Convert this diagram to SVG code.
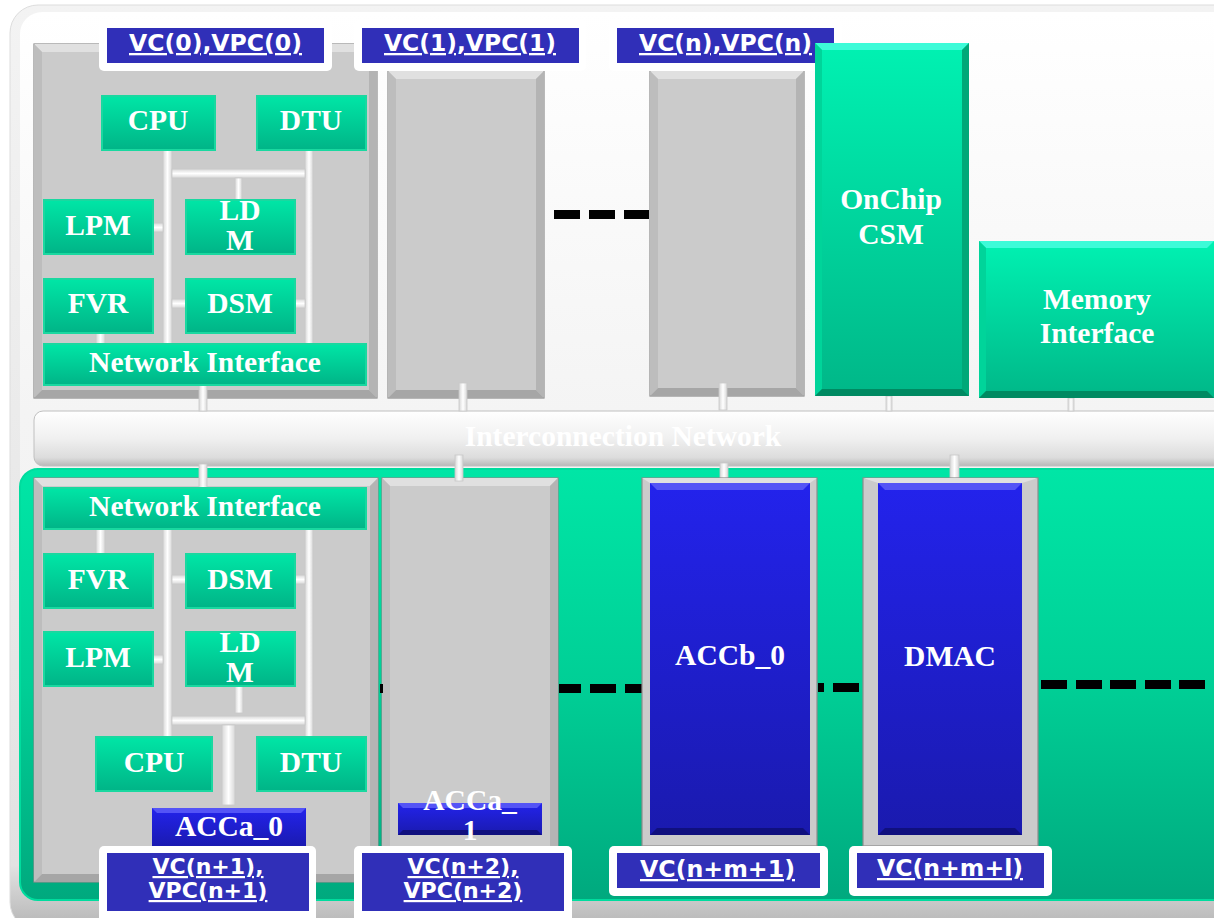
<svg xmlns="http://www.w3.org/2000/svg" width="1214" height="918" viewBox="0 0 1214 918">
<defs>
<linearGradient id="gFrame" x1="0" y1="0" x2="0" y2="1"><stop offset="0" stop-color="#f3f3f3"/><stop offset="0.93" stop-color="#e2e2e2"/><stop offset="1" stop-color="#b4b4b4"/></linearGradient>
<linearGradient id="gInner" x1="0" y1="0" x2="0" y2="1"><stop offset="0" stop-color="#ffffff"/><stop offset="0.45" stop-color="#f4f4f4"/><stop offset="1" stop-color="#f0f0f0"/></linearGradient>
<linearGradient id="gBar" x1="0" y1="0" x2="0" y2="1"><stop offset="0" stop-color="#ffffff"/><stop offset="0.5" stop-color="#f0f0f0"/><stop offset="0.85" stop-color="#dcdcdc"/><stop offset="1" stop-color="#b8b8b8"/></linearGradient>
<linearGradient id="gArea" x1="0" y1="0" x2="0" y2="1"><stop offset="0" stop-color="#00e6a6"/><stop offset="0.5" stop-color="#00cf96"/><stop offset="1" stop-color="#00a97e"/></linearGradient>
<linearGradient id="gComp" x1="0" y1="0" x2="0" y2="1"><stop offset="0" stop-color="#00e6a6"/><stop offset="1" stop-color="#00b487"/></linearGradient>
<linearGradient id="gBigGreen" x1="0" y1="0" x2="0" y2="1"><stop offset="0" stop-color="#00f2b2"/><stop offset="1" stop-color="#00b788"/></linearGradient>
<linearGradient id="gBlue" x1="0" y1="0" x2="0" y2="1"><stop offset="0" stop-color="#2323ec"/><stop offset="1" stop-color="#1a1aae"/></linearGradient>
<linearGradient id="gStubV" x1="0" y1="0" x2="1" y2="0"><stop offset="0" stop-color="#d8d8d8"/><stop offset="0.5" stop-color="#ffffff"/><stop offset="1" stop-color="#d8d8d8"/></linearGradient>
<linearGradient id="gStubH" x1="0" y1="0" x2="0" y2="1"><stop offset="0" stop-color="#d8d8d8"/><stop offset="0.5" stop-color="#ffffff"/><stop offset="1" stop-color="#d8d8d8"/></linearGradient>
<style>
.gray{fill:#cbcbcb;stroke:#8c8c8c;stroke-width:1.2}
.bt{fill:#e0e0e0}.bb{fill:#a6a6a6}.bl{fill:#bdbdbd}.br{fill:#b4b4b4}
.gt{fill:#3dfbd8}.gb{fill:#008a62}.gl{fill:#00d49a}.gr{fill:#00a878}
.ut{fill:#5454f6}.ub{fill:#10107e}
.comp{fill:url(#gComp);stroke:#1ad8a0;stroke-width:2}
.big{fill:url(#gBigGreen)}
.blue{fill:url(#gBlue)}
.lw{fill:#ffffff}
.lb{fill:#302fb8}
.t{font-family:'Liberation Serif','Times New Roman',serif;font-weight:bold;fill:#ffffff;text-anchor:middle;font-size:29.5px}
.l{font-family:'DejaVu Sans','Verdana',sans-serif;font-weight:bold;fill:#ffffff;text-anchor:middle;font-size:23px;text-decoration:underline}
.l2{font-family:'DejaVu Sans','Verdana',sans-serif;font-weight:bold;fill:#ffffff;text-anchor:middle;font-size:22px;text-decoration:underline}
.sv{fill:url(#gStubV);stroke:#c8c8c8;stroke-width:0.8}
.sh{fill:url(#gStubH);stroke:#c8c8c8;stroke-width:0.8}
.dash{fill:#000000}
</style>
</defs>

<rect x="0" y="0" width="1214" height="918" fill="#ffffff"/>
<!-- outer frame -->
<rect x="10" y="5" width="1240" height="925" rx="28" fill="url(#gFrame)" stroke="#dddddd" stroke-width="1"/>
<rect x="20" y="12" width="1220" height="888" rx="22" fill="url(#gInner)"/>

<!-- lower green area -->
<g id="accel-area">
<rect x="20" y="469" width="1216" height="431" rx="18" fill="url(#gArea)" stroke="#00dc9e" stroke-width="2"/>
</g>

<!-- interconnection network -->
<g id="interconnect">
<rect x="34" y="411" width="1200" height="55" rx="9" fill="url(#gBar)" stroke="#c0c0c0" stroke-width="1"/>
<text class="t" x="623" y="446">Interconnection Network</text>
</g>

<!-- container blocks -->
<g id="vc0">
<rect class="gray" x="34" y="44" width="343" height="354"/>
<polygon class="bt" points="34,44 377,44 369,52 42,52"/>
<polygon class="bl" points="34,44 42,52 42,390 34,398"/>
<polygon class="br" points="377,44 369,52 369,390 377,398"/>
<polygon class="bb" points="34,398 377,398 369,390 42,390"/>
<rect class="lw" x="99" y="20" width="233" height="51" rx="5"/>
<rect class="lb" x="107" y="28" width="217" height="35"/>
<text class="l" x="215.5" y="51" textLength="173" lengthAdjust="spacingAndGlyphs">VC(0),VPC(0)</text>
</g>

<g id="vc1">
<rect class="gray" x="388" y="71" width="156" height="327"/>
<polygon class="bt" points="388,71 544,71 536,79 396,79"/>
<polygon class="bl" points="388,71 396,79 396,390 388,398"/>
<polygon class="br" points="544,71 536,79 536,390 544,398"/>
<polygon class="bb" points="388,398 544,398 536,390 396,390"/>
<rect class="lw" x="354" y="20" width="232" height="51" rx="5"/>
<rect class="lb" x="362" y="28" width="217" height="35"/>
<text class="l" x="470" y="51" textLength="172" lengthAdjust="spacingAndGlyphs">VC(1),VPC(1)</text>
</g>

<g id="vcn">
<rect class="gray" x="650" y="71" width="154" height="325"/>
<polygon class="bt" points="650,71 804,71 796,79 658,79"/>
<polygon class="bl" points="650,71 658,79 658,388 650,396"/>
<polygon class="br" points="804,71 796,79 796,388 804,396"/>
<polygon class="bb" points="650,396 804,396 796,388 658,388"/>
<rect class="lw" x="609" y="20" width="233" height="51" rx="5"/>
<rect class="lb" x="617" y="28" width="217" height="35"/>
<text class="l" x="725.5" y="51" textLength="173" lengthAdjust="spacingAndGlyphs">VC(n),VPC(n)</text>
</g>

<g id="vcn1">
<rect class="gray" x="34" y="478" width="344" height="404"/>
<polygon class="bt" points="34,478 378,478 370,486 42,486"/>
<polygon class="bl" points="34,478 42,486 42,874 34,882"/>
<polygon class="br" points="378,478 370,486 370,874 378,882"/>
<polygon class="bb" points="34,882 378,882 370,874 42,874"/>
</g>

<g id="vcn2">
<rect class="gray" x="382" y="478" width="176" height="372"/>
<polygon class="bt" points="382,478 558,478 550,486 390,486"/>
<polygon class="bl" points="382,478 390,486 390,850 382,850"/>
<polygon class="br" points="558,478 550,486 550,850 558,850"/>
</g>

<!-- connectors -->
<g id="connectors">
<!-- top stubs -->
<rect class="sv" x="199" y="385" width="8" height="26"/>
<rect class="sv" x="459" y="383" width="8" height="28"/>
<rect class="sv" x="719" y="383" width="8" height="27"/>
<rect class="sv" x="886" y="396" width="6" height="15"/>
<rect class="sv" x="1068" y="398" width="6" height="13"/>
<!-- bottom stubs -->
<rect class="sv" x="199" y="464" width="8" height="25"/>
<rect class="sv" x="455" y="455" width="8" height="26"/>
<rect class="sv" x="720" y="463" width="8" height="16"/>
<rect class="sv" x="950" y="455" width="9" height="28"/>
<!-- top-left VC internal bus -->
<rect class="sv" x="163" y="150" width="9" height="195"/>
<rect class="sv" x="305" y="150" width="8" height="195"/>
<rect class="sh" x="172" y="169" width="133" height="9"/>
<rect class="sv" x="235" y="178" width="7" height="23"/>
<rect class="sh" x="153" y="223" width="10" height="9"/>
<rect class="sh" x="172" y="299" width="14" height="9"/>
<rect class="sh" x="295" y="299" width="10" height="9"/>
<rect class="sv" x="96" y="333" width="9" height="12"/>
<!-- bottom-left VC internal bus -->
<rect class="sv" x="163" y="529" width="9" height="208"/>
<rect class="sv" x="305" y="529" width="8" height="208"/>
<rect class="sh" x="172" y="716" width="133" height="9"/>
<rect class="sv" x="235" y="686" width="8" height="27"/>
<rect class="sv" x="222" y="725" width="13" height="80"/>
<rect class="sh" x="153" y="655" width="10" height="9"/>
<rect class="sh" x="172" y="575" width="14" height="9"/>
<rect class="sh" x="295" y="575" width="10" height="9"/>
<rect class="sv" x="96" y="529" width="9" height="26"/>
<!-- dashed continuation lines -->
<rect class="dash" x="554" y="210" width="26" height="9"/>
<rect class="dash" x="589" y="210" width="26" height="9"/>
<rect class="dash" x="624" y="210" width="25" height="9"/>
<rect class="dash" x="380" y="684" width="3" height="9"/>
<rect class="dash" x="559" y="684" width="22" height="9"/>
<rect class="dash" x="590" y="684" width="26" height="9"/>
<rect class="dash" x="625" y="684" width="17" height="9"/>
<rect class="dash" x="818" y="683" width="6" height="9"/>
<rect class="dash" x="833" y="683" width="26" height="9"/>
<rect class="dash" x="1041" y="680" width="26" height="9"/>
<rect class="dash" x="1076" y="680" width="26" height="9"/>
<rect class="dash" x="1110" y="680" width="26" height="9"/>
<rect class="dash" x="1145" y="680" width="26" height="9"/>
<rect class="dash" x="1179" y="680" width="26" height="9"/>
</g>

<!-- VC(0) components -->
<g id="vc0-cpu"><rect class="comp" x="102" y="96" width="113" height="54"/><text class="t" x="158" y="130">CPU</text></g>
<g id="vc0-dtu"><rect class="comp" x="257" y="96" width="109" height="54"/><text class="t" x="311" y="130">DTU</text></g>
<g id="vc0-lpm"><rect class="comp" x="44" y="200" width="109" height="54"/><text class="t" x="98" y="235">LPM</text></g>
<g id="vc0-ldm"><rect class="comp" x="186" y="200" width="109" height="54"/><text class="t" x="240" y="220">LD</text><text class="t" x="240" y="250">M</text></g>
<g id="vc0-fvr"><rect class="comp" x="44" y="279" width="109" height="54"/><text class="t" x="98" y="313">FVR</text></g>
<g id="vc0-dsm"><rect class="comp" x="186" y="279" width="109" height="54"/><text class="t" x="240" y="313">DSM</text></g>
<g id="vc0-ni"><rect class="comp" x="44" y="344" width="322" height="41"/><text class="t" x="205" y="372">Network Interface</text></g>

<!-- OnChip CSM -->
<g id="onchip-csm">
<rect class="big" x="815" y="43" width="154" height="353"/>
<polygon class="gt" points="815,43 969,43 962,50 822,50"/>
<polygon class="gl" points="815,43 822,50 822,389 815,396"/>
<polygon class="gr" points="969,43 962,50 962,389 969,396"/>
<polygon class="gb" points="815,396 969,396 962,389 822,389"/>
<text class="t" x="891" y="209">OnChip</text>
<text class="t" x="891" y="244">CSM</text>
</g>

<!-- Memory Interface -->
<g id="memory-interface">
<rect class="big" x="979" y="241" width="235" height="157"/>
<polygon class="gt" points="979,241 1214,241 1207,248 986,248"/>
<polygon class="gl" points="979,241 986,248 986,391 979,398"/>
<polygon class="gb" points="979,398 1214,398 1207,391 986,391"/>
<text class="t" x="1097" y="309">Memory</text>
<text class="t" x="1097" y="343">Interface</text>
</g>

<!-- VC(n+1) components -->
<g id="vcn1-ni"><rect class="comp" x="44" y="488" width="322" height="41"/><text class="t" x="205" y="516">Network Interface</text></g>
<g id="vcn1-fvr"><rect class="comp" x="44" y="554" width="109" height="54"/><text class="t" x="98" y="589">FVR</text></g>
<g id="vcn1-dsm"><rect class="comp" x="186" y="554" width="109" height="54"/><text class="t" x="240" y="589">DSM</text></g>
<g id="vcn1-lpm"><rect class="comp" x="44" y="632" width="109" height="54"/><text class="t" x="98" y="667">LPM</text></g>
<g id="vcn1-ldm"><rect class="comp" x="186" y="632" width="109" height="54"/><text class="t" x="240" y="652">LD</text><text class="t" x="240" y="682">M</text></g>
<g id="vcn1-cpu"><rect class="comp" x="96" y="737" width="116" height="54"/><text class="t" x="154" y="772">CPU</text></g>
<g id="vcn1-dtu"><rect class="comp" x="257" y="737" width="109" height="54"/><text class="t" x="311" y="772">DTU</text></g>
<g id="acca0">
<rect class="blue" x="152" y="808" width="154" height="40"/>
<polygon class="ut" points="152,808 306,808 301,813 157,813"/>
<text class="t" x="229" y="836">ACCa_0</text>
</g>
<g id="vcn1-label">
<rect class="lw" x="99" y="846" width="217" height="80" rx="5"/>
<rect class="lb" x="107" y="853" width="202" height="58"/>
<text class="l2" x="208" y="874">VC(n+1),</text>
<text class="l2" x="208" y="898">VPC(n+1)</text>
</g>

<!-- VC(n+2) components -->
<g id="acca1">
<rect class="blue" x="398" y="803" width="144" height="32"/>
<polygon class="ut" points="398,803 542,803 537,808 403,808"/>
<polygon class="ub" points="398,835 542,835 537,830 403,830"/>
<text class="t" x="470" y="810">ACCa_</text>
<text class="t" x="470" y="840">1</text>
</g>
<g id="vcn2-label">
<rect class="lw" x="354" y="846" width="218" height="80" rx="5"/>
<rect class="lb" x="362" y="853" width="202" height="58"/>
<text class="l2" x="463" y="874">VC(n+2),</text>
<text class="l2" x="463" y="898">VPC(n+2)</text>
</g>

<!-- ACCb_0 -->
<g id="accb0">
<rect class="gray" x="642" y="478" width="175" height="368"/>
<polygon class="bt" points="642,478 817,478 810,483 650,483"/>
<rect class="blue" x="650" y="483" width="160" height="352"/>
<polygon class="ut" points="650,483 810,483 803,490 657,490"/>
<polygon class="ub" points="650,835 810,835 803,828 657,828"/>
<text class="t" x="730" y="665">ACCb_0</text>
<rect class="lw" x="609" y="846" width="219" height="50" rx="5"/>
<rect class="lb" x="617" y="853" width="203" height="35"/>
<text class="l" x="717.5" y="877" textLength="155" lengthAdjust="spacingAndGlyphs">VC(n+m+1)</text>
</g>

<!-- DMAC -->
<g id="dmac">
<rect class="gray" x="863" y="478" width="175" height="368"/>
<polygon class="bt" points="863,478 1038,478 1022,483 878,483"/>
<rect class="blue" x="878" y="483" width="144" height="352"/>
<polygon class="ut" points="878,483 1022,483 1015,490 885,490"/>
<polygon class="ub" points="878,835 1022,835 1015,828 885,828"/>
<text class="t" x="950" y="666">DMAC</text>
<rect class="lw" x="849" y="846" width="203" height="50" rx="5"/>
<rect class="lb" x="857" y="853" width="187" height="35"/>
<text class="l" x="950" y="876" textLength="146" lengthAdjust="spacingAndGlyphs">VC(n+m+l)</text>
</g>
</svg>
